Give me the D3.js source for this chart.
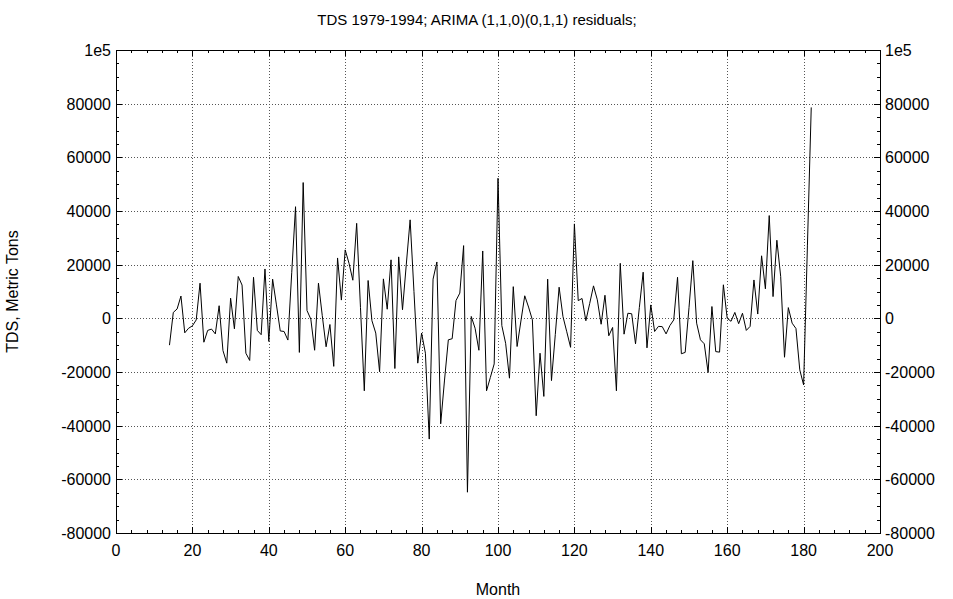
<!DOCTYPE html>
<html>
<head>
<meta charset="utf-8">
<script src="https://cdn.jsdelivr.net/npm/d3@7"></script>
<style>
  body { margin: 0; background: #fff; }
  text { font-family: "Liberation Sans", Arial, sans-serif; fill: #000; }
</style>
</head>
<body>
<svg id="chart" width="953" height="599"></svg>
<script>
// residuals, months 14..182
var firstMonth = 14;
var residuals = [
  -10000, 2200, 3500, 8300, -5400, -3700, -2800, -600, 13100, -8900,
  -4500, -4000, -5800, 4700, -12000, -16700, 7500, -3900, 15600, 12400,
  -13000, -15700, 15300, -4500, -6100, 18400, -8600, 14600, 5000, -4700,
  -4900, -8100, 17000, 41600, -12700, 50600, 2900, -300, -11900, 13100,
  1000, -10600, -2300, -17900, 22500, 6800, 25500, 20500, 14200, 35400,
  4000, -27000, 14100, -900, -5500, -19900, 14700, 3400, 21800, -18700,
  22900, 3200, 20200, 36700, 10000, -16700, -5500, -13000, -45000, 14600,
  21000, -39300, -23000, -8000, -7600, 6600, 9400, 27100, -64800, 700,
  -3700, -11900, 25100, -27000, -22000, -17000, 52200, -2700, -9300, -22300,
  11800, -10500, -1000, 8400, 4200, -600, -36300, -13000, -29100, 14600,
  -23200, -6000, 11600, 700, -5000, -10800, 35200, 6600, 7400, -900,
  5500, 12100, 6900, -2200, 8600, -6500, -3400, -27000, 20500, -5900,
  1900, 1700, -9500, 4000, 17200, -11000, 5000, -4900, -3000, -3100,
  -5800, -2700, -600, 15300, -13200, -12700, 4000, 21500, -1800, -8000,
  -9500, -20200, 4400, -12400, -12600, 12500, 0, -1100, 2200, -2000,
  1900, -4500, -3000, 14300, 1600, 23300, 11000, 38300, 8100, 29100,
  15600, -14500, 4000, -1800, -3800, -19200, -24800, 27000, 78600
];
var xTicks = [0, 20, 40, 60, 80, 100, 120, 140, 160, 180, 200];
var yTicks = [-80000, -60000, -40000, -20000, 0, 20000, 40000, 60000, 80000, 100000];
var yLabels = ["-80000", "-60000", "-40000", "-20000", "0", "20000", "40000", "60000", "80000", "1e5"];

var svg = d3.select("#chart");
var pLeft = 116, pRight = 880, pTop = 50, pBottom = 533;

var x = d3.scaleLinear().domain([0, 200]).range([pLeft, pRight]);
var y = d3.scaleLinear().domain([-80000, 100000]).range([pBottom, pTop]);

var data = residuals.map(function(v, i) { return {m: firstMonth + i, v: v}; });

// grid
var grid = svg.append("g").attr("stroke", "#555").attr("stroke-width", 1)
  .attr("stroke-dasharray", "1,2");
xTicks.slice(1, -1).forEach(function(t) {
  grid.append("line").attr("x1", Math.round(x(t)) + 0.5).attr("x2", Math.round(x(t)) + 0.5)
    .attr("y1", pTop).attr("y2", pBottom);
});
yTicks.slice(1, -1).forEach(function(t) {
  grid.append("line").attr("y1", Math.round(y(t)) + 0.5).attr("y2", Math.round(y(t)) + 0.5)
    .attr("x1", pLeft).attr("x2", pRight);
});

// inward ticks
var ticks = svg.append("g").attr("stroke", "#000").attr("stroke-width", 1);
d3.range(0, 201, 4).forEach(function(t) {
  var len = (t % 20 == 0) ? 6 : 3;
  var px = Math.round(x(t)) + 0.5;
  ticks.append("line").attr("x1", px).attr("x2", px).attr("y1", pBottom).attr("y2", pBottom - len);
  ticks.append("line").attr("x1", px).attr("x2", px).attr("y1", pTop).attr("y2", pTop + len);
});
d3.range(-80000, 100001, 5000).forEach(function(t) {
  var len = (t % 20000 == 0) ? 6 : 3;
  var py = Math.round(y(t)) + 0.5;
  ticks.append("line").attr("y1", py).attr("y2", py).attr("x1", pLeft).attr("x2", pLeft + len);
  ticks.append("line").attr("y1", py).attr("y2", py).attr("x1", pRight).attr("x2", pRight - len);
});

// frame
svg.append("rect").attr("x", pLeft + 0.5).attr("y", pTop + 0.5)
  .attr("width", pRight - pLeft).attr("height", pBottom - pTop)
  .attr("fill", "none").attr("stroke", "#000").attr("stroke-width", 1);

// series
var line = d3.line().x(function(d) { return x(d.m); }).y(function(d) { return y(d.v); });
svg.append("path").datum(data).attr("d", line)
  .attr("fill", "none").attr("stroke", "#000").attr("stroke-width", 1);

// labels
svg.selectAll(".xl").data(xTicks).enter().append("text")
  .attr("x", function(d) { return x(d); }).attr("y", pBottom + 23)
  .attr("text-anchor", "middle").style("font-size", "16px")
  .text(function(d) { return d; });
svg.selectAll(".yl").data(yTicks).enter().append("text")
  .attr("x", pLeft - 5).attr("y", function(d) { return y(d) + 6; })
  .attr("text-anchor", "end").style("font-size", "16px")
  .text(function(d, i) { return yLabels[i]; });
svg.selectAll(".yr").data(yTicks).enter().append("text")
  .attr("x", pRight + 5).attr("y", function(d) { return y(d) + 6; })
  .attr("text-anchor", "start").style("font-size", "16px")
  .text(function(d, i) { return yLabels[i]; });

svg.append("text").attr("x", 477).attr("y", 25)
  .attr("text-anchor", "middle").style("font-size", "15px")
  .text("TDS 1979-1994; ARIMA (1,1,0)(0,1,1) residuals;");
svg.append("text").attr("x", (pLeft + pRight) / 2).attr("y", 595)
  .attr("text-anchor", "middle").style("font-size", "16px").text("Month");
svg.append("text").attr("transform", "translate(18," + ((pTop + pBottom) / 2) + ") rotate(-90)")
  .attr("text-anchor", "middle").style("font-size", "16px").text("TDS, Metric Tons");
</script>
</body>
</html>
